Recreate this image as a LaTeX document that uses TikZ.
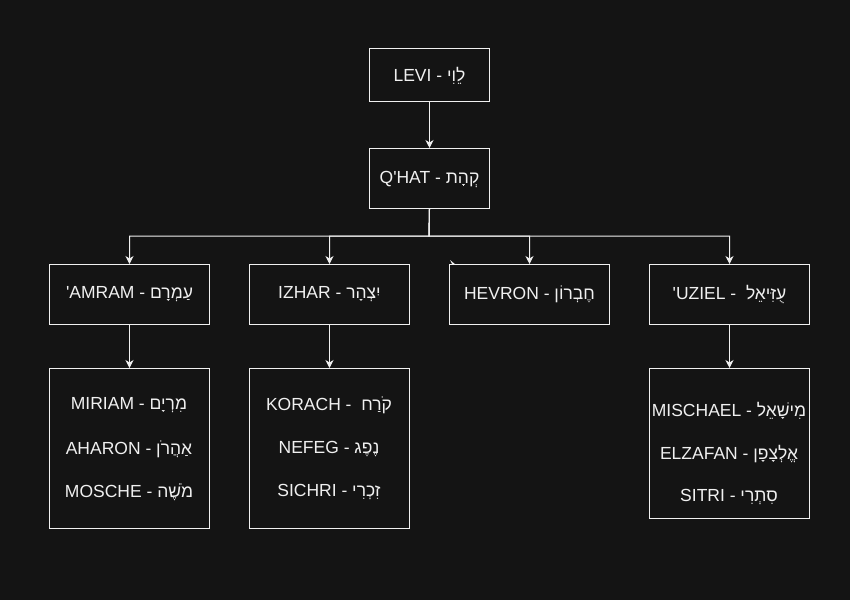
\documentclass[tikz,border=0pt]{standalone}
\usepackage{fontspec}
\newfontfamily\lat{Liberation Sans}
\newfontfamily\heb[Script=Hebrew]{Liberation Sans}
\TeXXeTstate=1
\usetikzlibrary{arrows.meta}
\definecolor{bg}{HTML}{141414}
\definecolor{fg}{HTML}{F0F0F0}
\newcommand{\hb}[1]{{\heb\beginR #1\endR}}
\begin{document}
\begin{tikzpicture}[x=1pt,y=-1pt,
  box/.style={draw=fg, fill=bg, line width=1pt, minimum width=160pt, minimum height=60pt, inner sep=0pt, anchor=north west},
  lbl/.style={text=fg, font=\lat\fontsize{17.5pt}{20pt}\selectfont, inner sep=0pt},
  conn/.style={draw=fg, line width=1pt, -{Stealth[length=8pt,width=8pt,inset=2.5pt]}}]
\fill[bg] (0,0) rectangle (850,600);
\useasboundingbox (0,0) rectangle (850,600);
% top boxes
\node[box, minimum width=120pt, minimum height=53pt] (levi) at (369,48) {};
\node[lbl] at ([yshift=-1pt]levi.center) {LEVI - \hb{לֵוִי}};
\node[box, minimum width=120pt, minimum height=60pt] (qhat) at (369,148) {};
\node[lbl] at ([yshift=-1pt]qhat.center) {Q'HAT - \hb{קְהָת}};
% children
\node[box] (amram) at (49,264) {};
\node[lbl] at (amram.center) {'AMRAM - \hb{עַמְרָם}};
\node[box] (izhar) at (249,264) {};
\node[lbl] at (izhar.center) {IZHAR - \hb{יִצְהָר}};
\node[box] (hevron) at (449,264) {};
\node[lbl] at (hevron.center) {HEVRON - \hb{חֶבְרוֹן}};
\node[box] (uziel) at (649,264) {};
\node[lbl] at (uziel.center) {'UZIEL -\ \ \hb{עֻזִּיאֵל}};
% grandchildren
\node[box, minimum height=160pt] (g1) at (49,368) {};
\node[lbl] (g1a) at (129,405) {MIRIAM - \hb{מִרְיָם}};
\node[lbl] (g1b) at (129,449) {AHARON - \hb{אַהֲרֹן}};
\node[lbl] (g1c) at (129,492) {MOSCHE - \hb{מֹשֶׁה}};
\node[box, minimum height=160pt] (g2) at (249,368) {};
\node[lbl] (g2a) at (329,405) {KORACH -\ \ \hb{קֹרַח}};
\node[lbl] (g2b) at (329,449) {NEFEG - \hb{נֶפֶג}};
\node[lbl] (g2c) at (329,492) {SICHRI - \hb{זִכְרִי}};
\node[box, minimum height=150pt] (g4) at (649,368) {};
\node[lbl] (g4a) at (729,411) {MISCHAEL - \hb{מִישָׁאֵל}};
\node[lbl] (g4b) at (729,454) {ELZAFAN - \hb{אֱלְצָפָן}};
\node[lbl] (g4c) at (729,497) {SITRI - \hb{סִתְרִי}};
% connectors
\draw[conn] (levi.south) -- (qhat.north);
\coordinate (bj) at (429,236);
\draw[conn] (qhat.south) -- (bj) -| (amram.north);
\draw[conn] (qhat.south) -- (bj) -| (izhar.north);
\draw[conn] (qhat.south) -- (bj) -| (hevron.north);
\draw[conn] (qhat.south) -- (bj) -| (uziel.north);
\draw[conn] (amram.south) -- (g1.north);
\draw[conn] (izhar.south) -- (g2.north);
\draw[conn] (uziel.south) -- (g4.north);
% small stray arrow mark
\coordinate (m) at (456,265);
\fill[fg] (m) -- ++(-6,-5) -- ++(2,4) -- cycle;
\end{tikzpicture}
\end{document}
